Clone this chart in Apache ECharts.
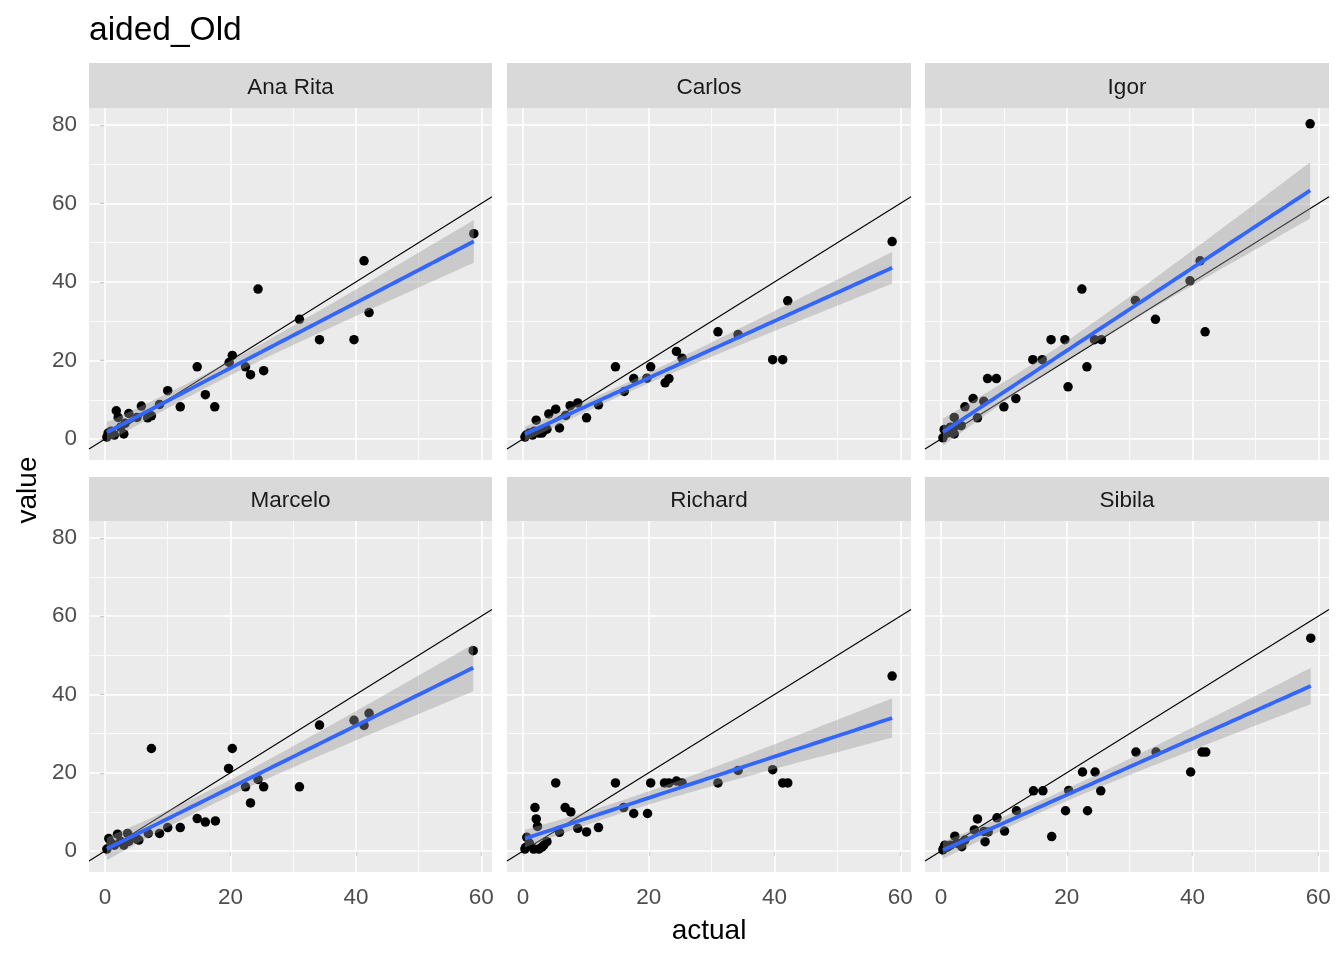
<!DOCTYPE html>
<html>
<head>
<meta charset="utf-8">
<script src="https://cdn.jsdelivr.net/npm/echarts@6/dist/echarts.min.js"></script>
<style>html,body{margin:0;padding:0;background:#fff}#c{width:1344px;height:960px}</style>
</head>
<body>
<div id="c"></div>
<script>
// ---- data: [actual, value] per person ----
const panelNames = ['Ana Rita', 'Carlos', 'Igor', 'Marcelo', 'Richard', 'Sibila'];
const anaRita = [[0.3,0.5],[0.5,1.5],[1.0,2.0],[1.5,1.0],[1.8,7.2],[2.1,5.5],[2.5,3.0],[3.0,1.3],[3.2,4.0],[3.8,6.5],[5.1,5.5],[5.8,8.4],[6.8,5.4],[7.4,5.9],[8.7,8.8],[10.0,12.3],[12.0,8.2],[14.7,18.4],[16.0,11.3],[17.5,8.2],[19.8,19.5],[20.3,21.3],[22.4,18.4],[23.2,16.4],[24.4,38.2],[25.3,17.4],[31.0,30.5],[34.2,25.3],[39.7,25.3],[41.3,45.4],[42.1,32.2],[58.8,52.3]];
const carlos = [[0.3,0.5],[0.5,1.0],[1.0,1.5],[1.5,1.0],[1.8,2.0],[2.1,4.8],[2.5,1.5],[3.0,1.5],[3.2,2.0],[3.8,2.5],[4.1,6.4],[5.2,7.6],[5.8,2.8],[6.8,6.0],[7.5,8.5],[8.7,9.2],[10.1,5.4],[12.0,8.7],[14.7,18.4],[16.1,12.1],[17.6,15.4],[19.7,15.5],[20.3,18.4],[22.6,14.3],[23.2,15.4],[24.4,22.3],[25.3,20.6],[31.0,27.3],[34.2,26.6],[39.7,20.2],[41.3,20.2],[42.1,35.2],[58.7,50.3]];
const igor = [[0.3,0.3],[0.5,2.4],[1.0,1.5],[1.5,3.0],[2.1,5.5],[2.1,1.3],[2.5,3.5],[3.2,3.4],[3.8,8.2],[5.1,10.3],[5.8,5.4],[6.8,9.6],[7.4,15.4],[8.8,15.4],[10.0,8.2],[11.9,10.3],[14.6,20.2],[16.1,20.2],[17.5,25.3],[19.7,25.3],[20.2,13.3],[22.4,38.2],[23.2,18.4],[24.4,25.3],[25.5,25.3],[30.9,35.3],[34.1,30.5],[39.6,40.3],[41.2,45.4],[42.0,27.3],[58.7,80.3]];
const marcelo = [[0.3,0.5],[0.6,3.2],[1.0,2.0],[1.5,1.5],[2.0,4.3],[2.5,2.5],[3.0,1.5],[3.6,4.5],[3.8,2.5],[5.1,3.0],[5.4,2.8],[6.9,4.5],[7.4,26.2],[8.7,4.5],[10.0,6.0],[12.0,6.0],[14.7,8.3],[16.0,7.4],[17.6,7.7],[19.7,21.1],[20.3,26.2],[22.4,16.4],[23.2,12.3],[24.4,18.3],[25.3,16.4],[31.0,16.4],[34.2,32.2],[39.7,33.4],[41.3,32.1],[42.1,35.2],[58.7,51.2]];
const richard = [[0.3,0.5],[0.4,0.9],[0.6,3.5],[1.0,2.0],[1.7,0.5],[1.9,11.1],[2.1,8.2],[2.3,6.3],[2.5,0.5],[3.0,1.0],[3.3,1.5],[3.8,2.4],[5.2,17.4],[5.8,4.8],[6.7,11.1],[7.6,10.0],[8.7,5.8],[10.1,4.9],[12.0,6.0],[14.7,17.4],[16.0,11.1],[17.6,9.6],[19.8,9.6],[20.3,17.4],[22.5,17.4],[23.2,17.4],[24.4,17.9],[25.3,17.4],[31.0,17.4],[34.2,20.6],[39.7,20.8],[41.3,17.4],[42.1,17.4],[58.7,44.7]];
const sibila = [[0.3,0.3],[0.4,0.7],[0.6,1.5],[1.0,1.0],[1.5,1.5],[2.2,3.8],[2.5,2.0],[3.3,1.1],[3.8,2.8],[5.3,5.4],[5.8,8.2],[6.8,5.0],[7.0,2.4],[7.5,4.9],[8.9,8.5],[10.1,5.1],[12.0,10.3],[14.7,15.4],[16.2,15.4],[17.6,3.7],[19.8,10.3],[20.3,15.5],[22.5,20.2],[23.3,10.3],[24.5,20.2],[25.4,15.4],[31.0,25.3],[34.2,25.3],[39.7,20.2],[41.5,25.3],[42.1,25.3],[58.8,54.4]];
const xTicks = [0, 20, 40, 60];
const yTicks = [0, 20, 40, 60, 80];
const xMinor = [10, 30, 50];
const yMinor = [10, 30, 50, 70];
const titleText = 'aided_Old';
const xTitle = 'actual';
const yTitle = 'value';

const panelData = [anaRita, carlos, igor, marcelo, richard, sibila];

// ---- layout ----
const XMIN = -2.55, XMAX = 61.7, YMIN = -5.35, YMAX = 84.33;
const colLeft = [89, 507, 925], colW = [403, 404, 404];
const rowTop = [108, 521], rowH = [352, 351];
const stripTop = [63, 477];
const FONT = '"Liberation Sans", Arial, sans-serif';

function tQuant(df) {
  const z = 1.959964;
  const g1 = (Math.pow(z,3) + z) / 4;
  const g2 = (5*Math.pow(z,5) + 16*Math.pow(z,3) + 3*z) / 96;
  const g3 = (3*Math.pow(z,7) + 19*Math.pow(z,5) + 17*Math.pow(z,3) - 15*z) / 384;
  return z + g1/df + g2/(df*df) + g3/(df*df*df);
}
function lmFit(pts) {
  const n = pts.length;
  let mx = 0, my = 0;
  pts.forEach(p => { mx += p[0]; my += p[1]; });
  mx /= n; my /= n;
  let sxx = 0, sxy = 0;
  pts.forEach(p => { sxx += (p[0]-mx)*(p[0]-mx); sxy += (p[0]-mx)*(p[1]-my); });
  const b = sxy / sxx, a = my - b * mx;
  let rss = 0;
  pts.forEach(p => { const r = p[1] - (a + b*p[0]); rss += r*r; });
  const s = Math.sqrt(rss / (n - 2));
  const t = tQuant(n - 2);
  const xs = pts.map(p => p[0]);
  const x0 = Math.min(...xs), x1 = Math.max(...xs);
  const line = [], upper = [], lower = [];
  for (let i = 0; i < 80; i++) {
    const x = x0 + (x1 - x0) * i / 79;
    const y = a + b * x;
    const se = s * Math.sqrt(1/n + (x-mx)*(x-mx)/sxx);
    line.push([x, y]);
    upper.push([x, y + t*se]);
    lower.push([x, y - t*se]);
  }
  return {line, upper, lower};
}

const grids = [], xAxes = [], yAxes = [], series = [], graphics = [];
panelData.forEach((pts, i) => {
  const r = Math.floor(i / 3), c = i % 3;
  grids.push({left: colLeft[c], top: rowTop[r], width: colW[c], height: rowH[r],
    show: true, backgroundColor: '#EBEBEB', borderWidth: 0, containLabel: false});
  const showX = r === 1, showY = c === 0;
  xAxes.push({type: 'value', gridIndex: i, min: XMIN, max: XMAX,
    axisLine: {show: false}, splitLine: {show: false},
    axisTick: {show: showX, customValues: xTicks, length: 5, lineStyle: {color: '#333333', width: 1.1}},
    axisLabel: {show: showX, customValues: xTicks, color: '#4D4D4D', fontSize: 22.5, fontFamily: FONT, margin: 14}});
  yAxes.push({type: 'value', gridIndex: i, min: YMIN, max: YMAX,
    axisLine: {show: false}, splitLine: {show: false},
    axisTick: {show: showY, customValues: yTicks, length: 5, lineStyle: {color: '#333333', width: 1.1}},
    axisLabel: {show: showY, customValues: yTicks, color: '#4D4D4D', fontSize: 22.5, fontFamily: FONT, margin: 12}});

  const gl = [];
  xTicks.forEach(v => gl.push({xAxis: v, lineStyle: {width: 1.6}}));
  xMinor.forEach(v => gl.push({xAxis: v, lineStyle: {width: 0.8}}));
  yTicks.forEach(v => gl.push({yAxis: v, lineStyle: {width: 1.6}}));
  yMinor.forEach(v => gl.push({yAxis: v, lineStyle: {width: 0.8}}));
  // grid lines (carrier series)
  series.push({type: 'line', xAxisIndex: i, yAxisIndex: i, data: [], z: 1, silent: true,
    markLine: {silent: true, z: 1, symbol: 'none', animation: false, label: {show: false},
      lineStyle: {color: '#FFFFFF', type: 'solid'}, emphasis: {disabled: true}, data: gl}});
  // points
  series.push({type: 'scatter', xAxisIndex: i, yAxisIndex: i, data: pts, z: 2,
    symbolSize: 9.5, itemStyle: {color: '#000000', opacity: 1}, silent: true});
  // identity line
  series.push({type: 'line', xAxisIndex: i, yAxisIndex: i, data: [[XMIN, XMIN], [XMAX, XMAX]], z: 3,
    showSymbol: false, symbol: 'none', lineStyle: {color: '#000000', width: 1.1}, silent: true, clip: true});
  const f = lmFit(pts);
  // confidence band
  series.push({type: 'custom', xAxisIndex: i, yAxisIndex: i, data: [f.line[40]], z: 4, silent: true,
    renderItem: (params, api) => {
      const poly = f.upper.map(p => api.coord(p)).concat(f.lower.slice().reverse().map(p => api.coord(p)));
      return {type: 'polygon', shape: {points: poly}, style: {fill: 'rgba(153,153,153,0.4)'}};
    }});
  // fitted line
  series.push({type: 'line', xAxisIndex: i, yAxisIndex: i, data: f.line, z: 5, showSymbol: false,
    symbol: 'none', lineStyle: {color: '#3366FF', width: 3.8}, silent: true});

  // strip
  graphics.push({type: 'rect', shape: {x: colLeft[c], y: stripTop[r], width: colW[c], height: rowTop[r] - stripTop[r]},
    style: {fill: '#D9D9D9'}, silent: true});
  graphics.push({type: 'text', x: colLeft[c] + colW[c] / 2, y: (stripTop[r] + rowTop[r]) / 2 + 2,
    style: {text: panelNames[i], fill: '#1A1A1A', font: '22.5px ' + FONT, align: 'center', verticalAlign: 'middle'}});
});

graphics.push({type: 'text', x: 89, y: 31, style: {text: titleText, fill: '#000000', font: '33.5px ' + FONT, align: 'left', verticalAlign: 'middle'}});
graphics.push({type: 'text', x: 709, y: 931, style: {text: xTitle, fill: '#000000', font: '28px ' + FONT, align: 'center', verticalAlign: 'middle'}});
graphics.push({type: 'text', x: 28, y: 490, rotation: Math.PI / 2, style: {text: yTitle, fill: '#000000', font: '28px ' + FONT, align: 'center', verticalAlign: 'middle'}});

const chart = echarts.init(document.getElementById('c'), null, {renderer: 'canvas'});
chart.setOption({
  animation: false,
  backgroundColor: '#FFFFFF',
  grid: grids, xAxis: xAxes, yAxis: yAxes, series: series, graphic: graphics
});
</script>
</body>
</html>
